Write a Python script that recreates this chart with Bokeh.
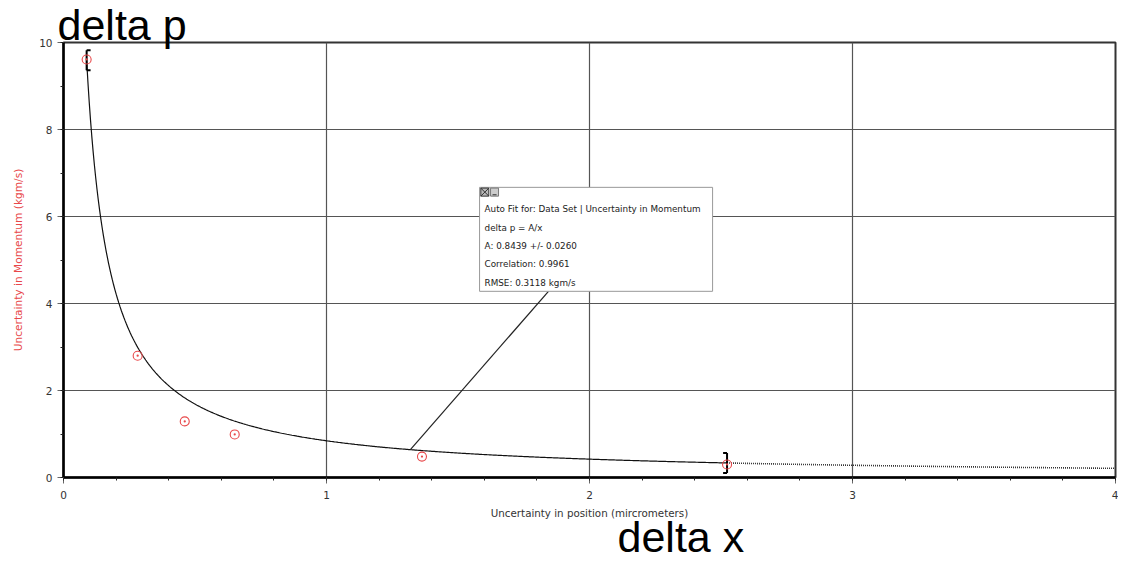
from bokeh.plotting import figure
from bokeh.models import Range1d, Label, SingleIntervalTicker, Title
from bokeh.embed import file_html
from bokeh.resources import INLINE
import numpy as np

# ---- data ----
pos_x = [0.088, 0.282, 0.461, 0.651, 1.363, 2.523]      # uncertainty in position (micrometers)
mom_y = [9.61, 2.80, 1.29, 0.99, 0.48, 0.30]            # uncertainty in momentum (kgm/s)
fit_A = 0.8439
fit_lines = [
    "Auto Fit for: Data Set | Uncertainty in Momentum",
    "delta p = A/x",
    "A: 0.8439 +/- 0.0260",
    "Correlation: 0.9961",
    "RMSE: 0.3118 kgm/s",
]
x_label = "Uncertainty in position (mircrometers)"
y_label = "Uncertainty in Momentum (kgm/s)"
corner_label_y = "delta p"
corner_label_x = "delta x"

RED = "#e8484a"
TICK_FONT = "DejaVu Sans"
BIG_FONT = "Liberation Sans"

p = figure(width=1118, height=560, x_range=Range1d(0, 4), y_range=Range1d(0, 10),
           output_backend="svg", toolbar_location=None,
           min_border_left=63, min_border_right=3, min_border_top=42, min_border_bottom=83)
p.background_fill_color = "white"
p.border_fill_color = "white"
p.outline_line_color = "#333333"
p.outline_line_width = 2

p.xaxis.ticker = SingleIntervalTicker(interval=1, num_minor_ticks=5)
p.yaxis.ticker = SingleIntervalTicker(interval=2, num_minor_ticks=2)
p.xgrid.ticker = p.xaxis.ticker
p.ygrid.ticker = p.yaxis.ticker
for g in (p.xgrid, p.ygrid):
    g.grid_line_color = "#555555"
    g.grid_line_width = 1.2

for ax in (p.xaxis, p.yaxis):
    ax.axis_line_color = "black"
    ax.axis_line_width = 2.5
    ax.major_tick_in = 0
    ax.major_tick_out = 6
    ax.minor_tick_in = 0
    ax.minor_tick_out = 3
    ax.major_tick_line_color = "#666666"
    ax.minor_tick_line_color = "#222222"
    ax.major_label_text_font = TICK_FONT
    ax.major_label_text_font_size = "10.5px"
    ax.major_label_text_color = "#333333"
    ax.axis_label_text_font = TICK_FONT
    ax.axis_label_text_font_style = "normal"

p.xaxis.axis_label = x_label
p.xaxis.axis_label_text_color = "#333333"
p.xaxis.axis_label_text_font_size = "10.3px"
p.xaxis.major_label_standoff = 7
p.xaxis.axis_label_standoff = 5
p.yaxis.axis_label = y_label
p.yaxis.axis_label_text_color = RED
p.yaxis.axis_label_text_font_size = "10.6px"
p.yaxis.major_label_standoff = 5
p.yaxis.axis_label_standoff = 12

# fit curve: solid over fitted range, dotted extension to the edge
x0, x1 = pos_x[0], pos_x[-1]
fx = np.linspace(x0, x1, 500)
p.line(fx, fit_A / fx, line_color="#111111", line_width=1.2)
ex = np.linspace(x1, 4, 200)
p.line(ex, fit_A / ex, line_color="#333333", line_width=1.6, line_dash="1 1")

# fit-range brackets
bh = 0.23
sw = 0.015
for xb, sgn in ((x0, 1), (x1, -1)):
    yc = fit_A / xb
    p.segment(x0=[xb], y0=[yc - bh], x1=[xb], y1=[yc + bh], line_color="black", line_width=2)
    p.segment(x0=[xb, xb], y0=[yc - bh, yc + bh], x1=[xb + sgn * sw, xb + sgn * sw],
              y1=[yc - bh, yc + bh], line_color="black", line_width=2)

# data points
p.scatter(pos_x, mom_y, marker="circle_dot", size=9, fill_color=None,
          line_color=RED, line_width=1.1)

# annotation box with leader line
bx0, bx1, by0, by1 = 1.582, 2.468, 4.28, 6.67
lead_x = 1.319
p.segment(x0=[1.844], y0=[by0], x1=[lead_x], y1=[fit_A / lead_x], line_color="#222222", line_width=1.2)
p.quad(left=[bx0], right=[bx1], bottom=[by0], top=[by1], fill_color="white",
       line_color="#999999", line_width=1)
p.scatter([bx0 + 0.02], [by1 - 0.11], marker="square_x", size=8, fill_color="#bbbbbb",
          line_color="#333333", line_width=1)
p.scatter([bx0 + 0.057], [by1 - 0.11], marker="square", size=8, fill_color="#cccccc",
          line_color="#777777", line_width=1)
p.scatter([bx0 + 0.057], [by1 - 0.17], marker="dash", size=4, line_color="#333333", line_width=1)

for i, t in enumerate(fit_lines):
    p.add_layout(Label(x=bx0, y=by1, x_offset=5, y_offset=-22 - 18.3 * i, text=t,
                       text_font=TICK_FONT, text_font_size="8.8px", text_color="#222222",
                       text_baseline="middle"))

# large corner labels (as side-panel titles so they are not clipped by the frame)
p.add_layout(Title(text=corner_label_y, align="left", offset=-6, vertical_align="bottom",
                   standoff=-13, text_font=BIG_FONT, text_font_size="43px",
                   text_font_style="normal", text_color="black"), "above")
p.add_layout(Title(text=corner_label_x, align="left", offset=554, vertical_align="bottom",
                   standoff=-22, text_font=BIG_FONT, text_font_size="43px",
                   text_font_style="normal", text_color="black"), "below")

open("out.html", "w").write(file_html(p, INLINE))
